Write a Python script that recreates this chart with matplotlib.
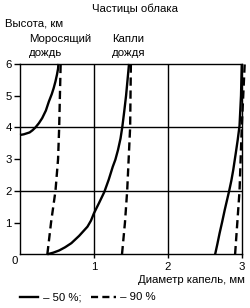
import matplotlib
matplotlib.use("Agg")
import matplotlib.pyplot as plt
from matplotlib.lines import Line2D

plt.rcParams['font.family'] = ['Liberation Sans', 'DejaVu Sans']

# drizzle, 50 % (starts above 3.7 km)
drizzle_50_x = [0.0, 0.05, 0.13, 0.17, 0.21, 0.255, 0.30, 0.35, 0.39, 0.43, 0.456, 0.48, 0.50, 0.515, 0.52]
drizzle_50_y = [3.76, 3.78, 3.84, 3.91, 4.0, 4.13, 4.29, 4.53, 4.81, 5.05, 5.24, 5.45, 5.66, 5.85, 6.0]
# drizzle, 90 %
drizzle_90_x = [0.37, 0.42, 0.48, 0.515, 0.53, 0.54, 0.55]
drizzle_90_y = [0, 1, 2, 3, 4, 5, 6]
# rain drops, 50 %
rain_50_x = [0.37, 0.45, 0.53, 0.61, 0.695, 0.80, 0.913, 0.96, 1.0, 1.07, 1.14, 1.20, 1.255,
             1.29, 1.326, 1.36, 1.385, 1.41, 1.435, 1.455, 1.475]
rain_50_y = [0, 0.05, 0.12, 0.22, 0.35, 0.58, 0.87, 1.06, 1.29, 1.62, 1.96, 2.35, 2.76,
             2.98, 3.29, 3.65, 4.03, 4.5, 5.0, 5.5, 6.0]
# rain drops, 90 %
rain_90_x = [1.38, 1.42, 1.45, 1.47, 1.49, 1.495, 1.50]
rain_90_y = [0, 1, 2, 3, 4, 5, 6]
# large drops, 50 % / 90 %
big_50_x = [2.64, 2.67, 2.70, 2.735, 2.77, 2.80, 2.83, 2.86, 2.885, 2.92, 2.945, 2.97, 2.99, 3.0]
big_50_y = [0, 0.32, 0.66, 1.02, 1.4, 1.7, 2.0, 2.33, 2.66, 3.2, 3.6, 4.05, 5.0, 6.0]
big_90_x = [2.91, 2.94, 2.97, 2.985, 3.0, 3.02, 3.04]
big_90_y = [0, 1, 2, 3, 4, 5, 6]

x_ticks = [1, 2, 3]
y_ticks = [1, 2, 3, 4, 5, 6]

fig = plt.figure(figsize=(2.5, 3.08), dpi=100)
ax = fig.add_axes([0.08, 0.1745, 0.887, 0.618])
ax.set_xlim(0, 3)
ax.set_ylim(0, 6)

for xv in [1, 2]:
    ax.axvline(xv, color='black', lw=1.0)
for yv in [2, 4]:
    ax.axhline(yv, color='black', lw=1.0)
for s in ax.spines.values():
    s.set_linewidth(1.0)

solid = dict(color='black', lw=1.7, clip_on=False, solid_capstyle='butt', solid_joinstyle='round')
dashed = dict(color='black', lw=1.7, clip_on=False, dashes=(3.5, 2.0))
ax.plot(drizzle_50_x, drizzle_50_y, **solid)
ax.plot(drizzle_90_x, drizzle_90_y, **dashed)
ax.plot(rain_50_x, rain_50_y, **solid)
ax.plot(rain_90_x, rain_90_y, **dashed)
ax.plot(big_50_x, big_50_y, **solid)
ax.plot(big_90_x, big_90_y, **dashed)

fs = 8.2
ax.set_xticks(x_ticks)
ax.set_yticks(y_ticks)
ax.tick_params(axis='y', direction='out', length=4.5, width=1.0, pad=1.5, labelsize=fs)
ax.tick_params(axis='x', direction='out', length=3, width=1.0, pad=2.5, labelsize=fs)
fig.text(15 / 250, 1 - 261 / 308, '0', ha='center', va='center', fontsize=fs)

fig.text(135 / 250, 1 - 9 / 308, 'Частицы облака', ha='center', va='center', fontsize=fs)
fig.text(5 / 250, 1 - 24 / 308, 'Высота, км', ha='left', va='center', fontsize=fs)
fig.text(29 / 250, 1 - 39 / 308, 'Моросящий', ha='left', va='center', fontsize=fs)
fig.text(29 / 250, 1 - 53 / 308, 'дождь', ha='left', va='center', fontsize=fs)
fig.text(112 / 250, 1 - 39 / 308, 'Капли', ha='left', va='center', fontsize=fs)
fig.text(112 / 250, 1 - 53 / 308, 'дождя', ha='left', va='center', fontsize=fs)
fig.text(245 / 250, 1 - 280 / 308, 'Диаметр капель, мм', ha='right', va='center', fontsize=fs)

# legend row
ly = 1 - 297 / 308
fig.add_artist(Line2D([20 / 250, 38 / 250], [ly, ly], color='black', lw=1.7))
fig.text(40 / 250, ly, ' – 50 %;', ha='left', va='center', fontsize=fs)
fig.add_artist(Line2D([91 / 250, 116 / 250], [ly, ly], color='black', lw=1.7, dashes=(3.0, 1.8)))
fig.text(117 / 250, ly, ' – 90 %', ha='left', va='center', fontsize=fs)

fig.savefig('out.png', dpi=100)
